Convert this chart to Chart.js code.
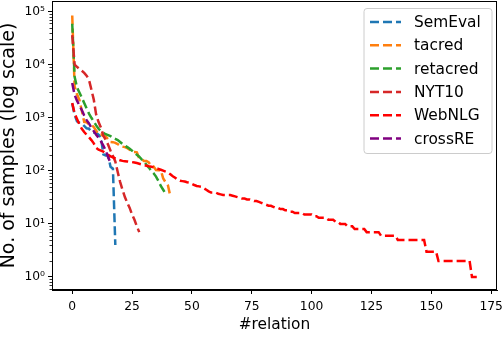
<!DOCTYPE html>
<html>
<head>
<meta charset="utf-8">
<script src="https://cdn.jsdelivr.net/npm/chart.js@4/dist/chart.umd.min.js"></script>
<style>
html,body{margin:0;padding:0;background:#fff;}
canvas{display:block;}
</style>
</head>
<body>
<canvas id="c" width="502" height="364"></canvas>
<script>
// ---- data ----
const seriesNames = ['SemEval', 'tacred', 'retacred', 'NYT10', 'WebNLG', 'crossRE'];
const seriesColors = ['#1f77b4', '#ff7f0e', '#2ca02c', '#d62728', '#ff0000', '#800080'];

const semeval = [1864, 1135, 853, 813, 779, 700, 632, 621, 541, 527, 517, 478, 431, 205, 195, 195, 119, 110, 4];

const tacred = [84491, 3862, 2770, 2163, 1359, 833, 819, 753, 742, 667, 573, 484, 483, 453, 444, 394, 350, 347, 337, 319, 296, 286, 280, 268, 250, 229, 227, 223, 171, 166, 153, 153, 144, 125, 121, 104, 103, 103, 72, 61, 53, 33];

const retacred = [59000, 5900, 3700, 3000, 2400, 1900, 1500, 1200, 1000, 850, 720, 620, 560, 520, 490, 470, 450, 420, 400, 380, 350, 320, 300, 280, 260, 240, 220, 200, 185, 165, 150, 130, 115, 100, 90, 78, 65, 52, 44, 37];

const nyt10 = [36000, 10000, 9100, 8300, 7700, 7000, 6200, 5200, 3400, 2200, 1140, 830, 650, 460, 385, 310, 240, 190, 150, 95, 62, 44, 32, 25, 20, 15, 12, 9, 7];

const webnlg = [1900, 1200, 950, 750, 620, 540, 480, 430, 380, 330,
  270, 250, 240, 230, 215, 200, 188, 180, 172, 165,
  158, 154, 152, 150, 148, 146, 143, 140, 136, 132,
  128, 125, 122, 120, 117, 113, 109, 105, 101, 97,
  93, 86, 79, 74, 68, 65, 64, 63, 61, 60,
  57, 54, 52, 51, 50, 47, 44, 41, 39, 39,
  39, 37, 36, 35, 35, 35, 35, 34, 33, 32,
  31, 30, 30, 29, 29, 28, 27, 27, 26, 25,
  24, 23, 22, 22, 21, 20, 20, 19, 19, 18,
  18, 17, 17, 16, 16, 16, 16, 15, 15, 15,
  15, 14, 14, 13, 13, 13, 13, 12, 12, 12,
  11, 11, 10, 10, 10, 9, 9, 9, 8, 8,
  8, 8, 8, 7, 7, 7, 7, 7, 7, 6,
  6, 6, 6, 6, 6, 6, 5, 5, 5, 5,
  5, 5, 5, 5, 5, 5, 5, 5, 3, 3,
  3, 3, 3, 2, 2, 2, 2, 2, 2, 2,
  2, 2, 2, 2, 2, 2, 2, 1, 1, 1];

const crossre = [4500, 2700, 2100, 1700, 1400, 1100, 900, 780, 650, 560, 480, 420, 360, 300, 240, 180, 140];

const xTicks = [0, 25, 50, 75, 100, 125, 150, 175];
const yTicks = [1, 10, 100, 1000, 10000, 100000];
const xTitle = '#relation';
const yTitle = 'No. of samples (log scale)';

// ---- chart ----
const allSeries = [semeval, tacred, retacred, nyt10, webnlg, crossre];
const FONT = 'DejaVu Sans';
const DASH = [9, 4];
const LW = 2.5;

const datasets = allSeries.map((arr, k) => ({
  label: seriesNames[k],
  data: arr.map((v, i) => ({x: i, y: v})),
  borderColor: seriesColors[k],
  backgroundColor: seriesColors[k],
  borderWidth: LW,
  borderDash: DASH,
  borderCapStyle: 'butt',
  pointRadius: 0,
  fill: false,
  tension: 0,
  order: allSeries.length - 1 - k   // later series drawn on top, as in the reference
}));

const sup = {'-':'⁻','0':'⁰','1':'¹','2':'²','3':'³','4':'⁴','5':'⁵','6':'⁶','7':'⁷','8':'⁸','9':'⁹'};
function powLabel(v) {
  const e = Math.round(Math.log10(v));
  return '10' + String(e).split('').map(c => sup[c]).join('');
}

const framePlugin = {
  id: 'frame',
  afterDatasetsDraw(chart) {
    const {ctx, chartArea: a} = chart;
    const ys = chart.scales.y;
    ctx.save();
    ctx.strokeStyle = '#000';
    ctx.lineWidth = 0.8;
    for (let e = -1; e <= 5; e++) {
      for (let m = 2; m <= 9; m++) {
        const v = m * Math.pow(10, e);
        const py = ys.getPixelForValue(v);
        if (py < a.top || py > a.bottom) continue;
        ctx.beginPath();
        ctx.moveTo(a.left - 2.5, Math.round(py) + 0.5);
        ctx.lineTo(a.left, Math.round(py) + 0.5);
        ctx.stroke();
      }
    }
    ctx.lineWidth = 1;
    ctx.strokeRect(Math.round(a.left) + 0.5, Math.round(a.top) + 0.5, Math.round(a.right - a.left) - 1, Math.round(a.bottom - a.top) - 1);
    ctx.restore();
  },
  afterDraw(chart) {
    const {ctx} = chart;
    ctx.save();
    const bx = 364, by = 8.5, bw = 128, bh = 145, r = 3;
    ctx.beginPath();
    ctx.moveTo(bx + r, by);
    ctx.lineTo(bx + bw - r, by);
    ctx.quadraticCurveTo(bx + bw, by, bx + bw, by + r);
    ctx.lineTo(bx + bw, by + bh - r);
    ctx.quadraticCurveTo(bx + bw, by + bh, bx + bw - r, by + bh);
    ctx.lineTo(bx + r, by + bh);
    ctx.quadraticCurveTo(bx, by + bh, bx, by + bh - r);
    ctx.lineTo(bx, by + r);
    ctx.quadraticCurveTo(bx, by, bx + r, by);
    ctx.closePath();
    ctx.fillStyle = 'rgba(255,255,255,0.8)';
    ctx.fill();
    ctx.strokeStyle = '#cccccc';
    ctx.lineWidth = 1;
    ctx.stroke();
    chart.data.datasets.forEach((ds, i) => {
      const y = 22 + i * 23.3;
      ctx.setLineDash(DASH);
      ctx.lineCap = 'butt';
      ctx.strokeStyle = ds.borderColor;
      ctx.lineWidth = LW;
      ctx.beginPath();
      ctx.moveTo(370, y);
      ctx.lineTo(401, y);
      ctx.stroke();
      ctx.setLineDash([]);
      ctx.fillStyle = '#000';
      ctx.font = '15.4px "' + FONT + '"';
      ctx.textBaseline = 'middle';
      ctx.textAlign = 'left';
      ctx.fillText(ds.label, 414, y + 1);
    });
    ctx.restore();
  }
};

new Chart(document.getElementById('c'), {
  type: 'line',
  data: {datasets},
  plugins: [framePlugin],
  options: {
    responsive: false,
    animation: false,
    devicePixelRatio: 1,
    layout: {padding: {top: 1, right: 5, left: 0, bottom: 30}},
    plugins: {legend: {display: false}, tooltip: {enabled: false}},
    scales: {
      x: {
        type: 'linear',
        min: -8.45,
        max: 177.45,
        afterBuildTicks: s => { s.ticks = xTicks.map(v => ({value: v})); },
        afterFit: s => { s.height = 44; s.paddingLeft = 0; s.paddingRight = 0; },
        ticks: {color: '#000', font: {family: FONT, size: 12.3}, padding: 5, maxRotation: 0,
                callback: v => String(v)},
        grid: {display: true, drawOnChartArea: false, drawTicks: true, tickLength: 4, color: '#000', tickWidth: 1},
        border: {display: true, color: '#000', width: 1},
        title: {display: true, text: xTitle, color: '#000', font: {family: FONT, size: 15.4}, padding: {top: 0, bottom: 0}}
      },
      y: {
        type: 'logarithmic',
        min: Math.pow(10, -0.245),
        max: Math.pow(10, 5.2),
        afterBuildTicks: s => { s.ticks = yTicks.map(v => ({value: v, major: true})); },
        afterFit: s => { s.width = 52; s.paddingTop = 0; s.paddingBottom = 0; },
        ticks: {color: '#000', font: {family: FONT, size: 12.3}, padding: 3, autoSkip: false,
                callback: v => powLabel(v)},
        grid: {display: true, drawOnChartArea: false, drawTicks: true, tickLength: 4, color: '#000', tickWidth: 1},
        border: {display: true, color: '#000', width: 1},
        title: {display: true, text: yTitle, color: '#000', font: {family: FONT, size: 19}, padding: {top: -2, bottom: 0}}
      }
    }
  }
});
</script>
</body>
</html>
